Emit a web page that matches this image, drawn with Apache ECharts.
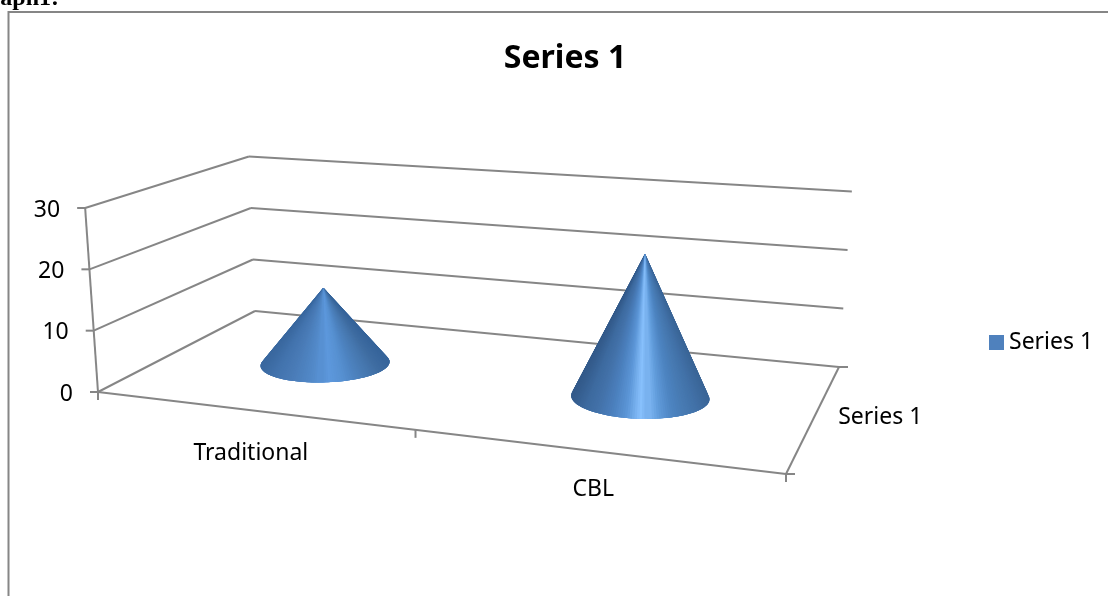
<!DOCTYPE html>
<html>
<head>
<meta charset="utf-8">
<style>html,body{margin:0;padding:0;background:#fff;overflow:hidden}#chart{width:1108px;height:596px}</style>
<script src="https://cdn.jsdelivr.net/npm/echarts@6/dist/echarts.min.js"></script>
</head>
<body>
<div id="chart"></div>
<script>
// Chart content
const categories = ['Traditional', 'CBL'];
const seriesName = 'Series 1';
const seriesValues = [13, 23];
const tickValues = [0, 10, 20, 30];

// Floor corners of the 3D box on screen, in the order front-left, front-right, back-right, back-left
const floorQuad = [[98, 392], [786, 474], [839, 367], [255, 311]];
const wallHeight = 184;        // front-left height of the value axis in pixels
const verticalLean = 0.0355;   // convergence of vertical lines
const verticalVanishX = 460;
const coneRadiusU = 0.099;
const coneRadiusD = 0.205;

const axisColor = '#868686';
const textColor = '#000000';
const uiFont = 'Noto Sans';

// Side shading of each cone, left silhouette to right silhouette
const shadeRamps = [
  ['#3a689f', '#4273ad', '#4879b4', '#4d81be', '#538ac9', '#5d98dd', '#5791d2', '#4d83c0', '#4779b1', '#3f6da2', '#36649a'],
  ['#335a8a', '#3d6a9f', '#4473ab', '#4c81bf', '#5c96d7', '#88c1fd', '#609bda', '#4d84c1', '#477ab2', '#4170a6', '#3a6596']
];

// Projective map from the unit floor square to the screen
const floorMap = (function () {
  const [[x0, y0], [x1, y1], [x2, y2], [x3, y3]] = floorQuad;
  const dx1 = x1 - x2, dx2 = x3 - x2, sx = x0 - x1 + x2 - x3;
  const dy1 = y1 - y2, dy2 = y3 - y2, sy = y0 - y1 + y2 - y3;
  const det = dx1 * dy2 - dx2 * dy1;
  const g = (sx * dy2 - dx2 * sy) / det;
  const h = (dx1 * sy - sx * dy1) / det;
  return {
    a: x1 - x0 + g * x1, b: x3 - x0 + h * x3, c: x0,
    d: y1 - y0 + g * y1, e: y3 - y0 + h * y3, f: y0,
    g: g, h: h
  };
})();

// u runs along the category axis, d into the depth, t up the value axis (all 0..1)
function project(u, d, t) {
  const m = floorMap;
  const w = 1 + m.g * u + m.h * d;
  const x = (m.a * u + m.b * d + m.c) / w;
  const y = (m.d * u + m.e * d + m.f) / w;
  return [x + verticalLean * (x - verticalVanishX) * t / w, y - wallHeight * t / w];
}

// Axis-derived fractions, so marks follow the hidden cartesian scales
function uOf(api, cs, index) {
  return (api.coord([index, 0])[0] - cs.x) / cs.width;
}
function tOf(api, cs, value) {
  return (cs.y + cs.height - api.coord([0, value])[1]) / cs.height;
}

function edge(p, q) {
  return {
    type: 'line',
    shape: { x1: p[0], y1: p[1], x2: q[0], y2: q[1] },
    style: { stroke: axisColor, lineWidth: 2 }
  };
}
function label(text, x, y, align) {
  return {
    type: 'text',
    style: {
      text: text, x: x, y: y, align: align, verticalAlign: 'middle',
      fontFamily: uiFont, fontSize: 23, fill: textColor
    }
  };
}

// Back wall and side wall grid lines with the value labels
function renderWall(params, api) {
  const cs = params.coordSys;
  const value = api.value(1);
  const t = tOf(api, cs, value);
  const front = project(0, 0, t);
  const back = project(0, 1, t);
  const right = project(1, 1, t);
  return {
    type: 'group',
    children: [
      edge(front, back),
      edge(back, right),
      edge([front[0] - 8, front[1]], front),
      label(String(value), front[0] - 25, front[1] + 2, 'right')
    ]
  };
}

// Floor outline, axis ticks and the category labels
function renderFloor(params, api) {
  const cs = params.coordSys;
  const index = api.value(0);
  const u = uOf(api, cs, index);
  const foot = project(u, 0, 0);
  const children = [
    label(categories[index], foot[0], foot[1] + 45.5 - 10 * u, 'center')
  ];
  if (index === 0) {
    const fl = project(0, 0, 0), fr = project(1, 0, 0), br = project(1, 1, 0);
    const top = project(0, 0, 1);
    const mid = project(0.5, 0, 0);
    const side = project(1, 0.5, 0);
    children.push(
      edge(fl, top), edge(fl, fr), edge(fr, br),
      edge(fl, [fl[0], fl[1] + 8]),
      edge(mid, [mid[0], mid[1] + 8]),
      edge(fr, [fr[0], fr[1] + 8]),
      edge(fr, [fr[0] + 9, fr[1]]),
      edge(br, [br[0] + 9, br[1]]),
      label(seriesName, side[0] + 23, side[1] + 2, 'left')
    );
  }
  return { type: 'group', children: children };
}

// A cone is drawn as a fan of overlapping triangles from the apex to the base circle
function renderCone(params, api) {
  const cs = params.coordSys;
  const index = api.value(0);
  const u = uOf(api, cs, index);
  const apex = project(u, 0.5, tOf(api, cs, api.value(1)));
  const ramp = shadeRamps[index];
  const rim = [];
  const steps = 180;
  for (let i = 0; i < steps; i++) {
    const a = i / steps * Math.PI * 2;
    rim.push(project(u + coneRadiusU * Math.cos(a), 0.5 + coneRadiusD * Math.sin(a), 0));
  }
  const xs = rim.map(function (p) { return p[0]; });
  const minX = Math.min.apply(null, xs), maxX = Math.max.apply(null, xs);
  const wedges = rim.map(function (p, i) {
    return { p: p, q: rim[(i + 1) % steps], r: rim[(i + 3) % steps] };
  }).sort(function (m, n) {
    return (m.p[1] + m.q[1]) - (n.p[1] + n.q[1]);
  });
  const children = [{
    type: 'polygon',
    shape: { points: rim },
    style: { fill: ramp[5] }
  }];
  wedges.forEach(function (w) {
    const s = ((w.p[0] + w.q[0]) / 2 - minX) / (maxX - minX);
    children.push({
      type: 'polygon',
      shape: { points: [apex, w.p, w.q, w.r] },
      style: { fill: echarts.color.lerp(s, ramp) }
    });
  });
  return { type: 'group', children: children };
}

const chart = echarts.init(document.getElementById('chart'), null, { renderer: 'canvas' });
chart.setOption({
  animation: false,
  backgroundColor: '#ffffff',
  title: {
    text: seriesName,
    left: 560,
    top: 38,
    textAlign: 'center',
    textStyle: { fontFamily: uiFont, fontSize: 32, fontWeight: 'bold', color: textColor }
  },
  legend: {
    data: [seriesName],
    left: 984,
    top: 326,
    itemWidth: 15,
    itemHeight: 15,
    itemGap: 0,
    icon: 'rect',
    textStyle: { fontFamily: uiFont, fontSize: 23, color: textColor, padding: [0, 0, 0, 0] }
  },
  grid: { left: 100, top: 100, width: 600, height: 300, show: false },
  xAxis: { type: 'category', data: categories, show: false },
  yAxis: { type: 'value', min: 0, max: 30, interval: 10, show: false },
  graphic: [
    {
      type: 'polyline',
      shape: { points: [[8.5, 596], [8.5, 12], [1108, 12]] },
      style: { stroke: axisColor, lineWidth: 2, fill: 'none' },
      silent: true
    },
    {
      type: 'text',
      style: {
        text: 'aph1:', x: 59, y: 10.5, align: 'right', verticalAlign: 'bottom',
        fontFamily: 'Liberation Serif', fontWeight: 'bold', fontSize: 24, fill: textColor
      },
      silent: true
    }
  ],
  series: [
    {
      type: 'custom', z: 1, silent: true,
      renderItem: renderWall,
      encode: { x: 0, y: 1 },
      data: tickValues.map(function (v) { return [0, v]; })
    },
    {
      type: 'custom', z: 2, silent: true,
      renderItem: renderFloor,
      encode: { x: 0, y: 1 },
      data: categories.map(function (c, i) { return [i, 0]; })
    },
    {
      type: 'custom', z: 3, silent: true,
      name: seriesName,
      itemStyle: { color: '#4f81bd' },
      renderItem: renderCone,
      encode: { x: 0, y: 1 },
      data: seriesValues.map(function (v, i) { return [i, v]; })
    }
  ]
});
</script>
</body>
</html>
